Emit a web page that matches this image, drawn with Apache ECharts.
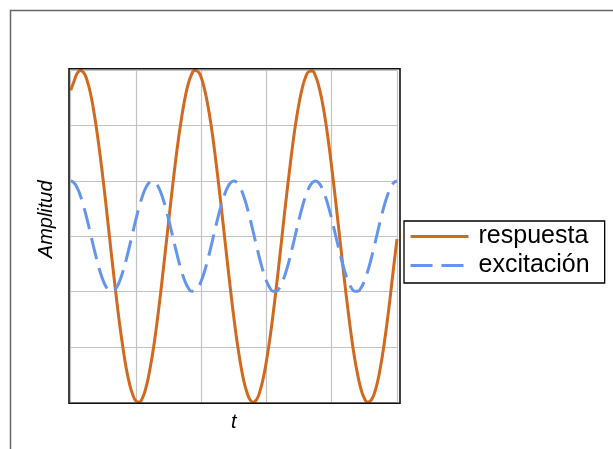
<!DOCTYPE html>
<html>
<head>
<meta charset="utf-8">
<script src="https://cdn.jsdelivr.net/npm/echarts@6/dist/echarts.min.js"></script>
<style>
  html, body { margin: 0; padding: 0; background: #fff; }
  #chart { width: 613px; height: 449px; }
</style>
</head>
<body>
<div id="chart"></div>
<script>
// Respuesta vs excitación

const seriesNames = ['respuesta', 'excitación'];

// eje t, muestreado cada 0.05
const tValues = [
  0.00, 0.05, 0.10, 0.15, 0.20, 0.25, 0.30, 0.35, 0.40, 0.45,
  0.50, 0.55, 0.60, 0.65, 0.70, 0.75, 0.80, 0.85, 0.90, 0.95,
  1.00, 1.05, 1.10, 1.15, 1.20, 1.25, 1.30, 1.35, 1.40, 1.45,
  1.50, 1.55, 1.60, 1.65, 1.70, 1.75, 1.80, 1.85, 1.90, 1.95,
  2.00, 2.05, 2.10, 2.15, 2.20, 2.25, 2.30, 2.35, 2.40, 2.45,
  2.50, 2.55, 2.60, 2.65, 2.70, 2.75, 2.80, 2.85, 2.90, 2.95,
  3.00, 3.05, 3.10, 3.15, 3.20, 3.25, 3.30, 3.35, 3.40, 3.45,
  3.50, 3.55, 3.60, 3.65, 3.70, 3.75, 3.80, 3.85, 3.90, 3.95,
  4.00, 4.05, 4.10, 4.15, 4.20, 4.25, 4.30, 4.35, 4.40, 4.45,
  4.50, 4.55, 4.60, 4.65, 4.70, 4.75, 4.80, 4.85, 4.90, 4.95,
  5.00
];

const respuesta = [
  2.64, 2.80, 2.95, 3.00, 2.96, 2.82, 2.60, 2.29, 1.91, 1.47,
  0.99, 0.47, -0.07, -0.60, -1.11, -1.59, -2.01, -2.38, -2.66, -2.86,
  -2.98, -3.00, -2.92, -2.75, -2.49, -2.16, -1.76, -1.30, -0.80, -0.27,
  0.26, 0.79, 1.29, 1.75, 2.15, 2.49, 2.75, 2.92, 3.00, 2.98,
  2.87, 2.66, 2.38, 2.02, 1.59, 1.11, 0.60, 0.07, -0.46, -0.98,
  -1.47, -1.91, -2.29, -2.60, -2.82, -2.96, -3.00, -2.95, -2.80, -2.57,
  -2.25, -1.87, -1.42, -0.93, -0.41, 0.13, 0.66, 1.16, 1.64, 2.06,
  2.41, 2.69, 2.88, 2.98, 2.99, 2.90, 2.72, 2.46, 2.12, 1.71,
  1.24, 0.74, 0.21, -0.32, -0.85, -1.34, -1.80, -2.20, -2.52, -2.77,
  -2.93, -3.00, -2.97, -2.85, -2.64, -2.34, -1.97, -1.54, -1.06, -0.54,
  -0.05
];

const excitacion = [
  1.000, 0.969, 0.876, 0.729, 0.536, 0.309, 0.063, -0.187, -0.426, -0.637,
  -0.809, -0.930, -0.992, -0.992, -0.930, -0.809, -0.637, -0.426, -0.187, 0.063,
  0.309, 0.536, 0.729, 0.876, 0.969, 1.000, 0.969, 0.876, 0.729, 0.536,
  0.309, 0.063, -0.187, -0.426, -0.637, -0.809, -0.930, -0.992, -0.992, -0.930,
  -0.809, -0.637, -0.426, -0.187, 0.063, 0.309, 0.536, 0.729, 0.876, 0.969,
  1.000, 0.969, 0.876, 0.729, 0.536, 0.309, 0.063, -0.187, -0.426, -0.637,
  -0.809, -0.930, -0.992, -0.992, -0.930, -0.809, -0.637, -0.426, -0.187, 0.063,
  0.309, 0.536, 0.729, 0.876, 0.969, 1.000, 0.969, 0.876, 0.729, 0.536,
  0.309, 0.063, -0.187, -0.426, -0.637, -0.809, -0.930, -0.992, -0.992, -0.930,
  -0.809, -0.637, -0.426, -0.187, 0.063, 0.309, 0.536, 0.729, 0.876, 0.969,
  1.000
];

const FONT = "'Liberation Sans', Arial, sans-serif";
const GRID_COLOR = '#c3c3c3';

const toPairs = (ys) => tValues.map((t, i) => [t, ys[i]]);

const chart = echarts.init(document.getElementById('chart'), null, { renderer: 'canvas' });

const axisCommon = {
  type: 'value',
  interval: 1,
  axisLine: { show: false },
  axisTick: { show: false },
  axisLabel: { show: false },
  splitLine: { show: true, lineStyle: { color: GRID_COLOR, width: 1.2 } },
  nameLocation: 'middle',
  nameTextStyle: { fontFamily: FONT, fontStyle: 'italic', fontSize: 20, color: '#000' }
};

chart.setOption({
  animation: false,
  backgroundColor: '#fff',
  grid: {
    left: 70.7, top: 70.4, width: 326.3, height: 331.8,
    containLabel: false, outerBoundsMode: 'none'
  },
  xAxis: Object.assign({}, axisCommon, {
    min: 0, max: 5, name: 't', nameGap: 10
  }),
  yAxis: Object.assign({}, axisCommon, {
    min: -3, max: 3, name: 'Amplitud', nameGap: 14,
    nameTextStyle: Object.assign({}, axisCommon.nameTextStyle, { padding: [0, 0, 0, 34] })
  }),
  legend: {
    orient: 'vertical',
    left: 404, top: 221,
    padding: [1, 15, 3, 5],
    itemWidth: 58, itemHeight: 14, itemGap: 0,
    borderColor: '#000', borderWidth: 1.3, borderRadius: 0,
    backgroundColor: '#fff',
    itemStyle: { opacity: 0 },
    lineStyle: { width: 3 },
    textStyle: { fontFamily: FONT, fontSize: 25, color: '#000', lineHeight: 29, padding: [0, 0, 0, 5] },
    data: seriesNames
  },
  graphic: [
    {
      type: 'rect', silent: true,
      shape: { x: 10.5, y: 10.5, width: 700, height: 500 },
      style: { fill: 'none', stroke: '#666', lineWidth: 1.5 }
    },
    {
      type: 'rect', silent: true, z: 10,
      shape: { x: 69, y: 68.8, width: 331, height: 334.5 },
      style: { fill: 'none', stroke: '#111', lineWidth: 1.6 }
    }
  ],
  series: [
    {
      name: seriesNames[0], type: 'line', data: toPairs(respuesta),
      symbol: 'none', smooth: true, clip: false,
      lineStyle: { color: '#D2691E', width: 3 },
      itemStyle: { color: '#D2691E' }
    },
    {
      name: seriesNames[1], type: 'line', data: toPairs(excitacion),
      symbol: 'none', smooth: true, clip: false,
      lineStyle: { color: '#6495ED', width: 3, type: [22, 9] },
      itemStyle: { color: '#6495ED' }
    }
  ]
});
</script>
</body>
</html>
